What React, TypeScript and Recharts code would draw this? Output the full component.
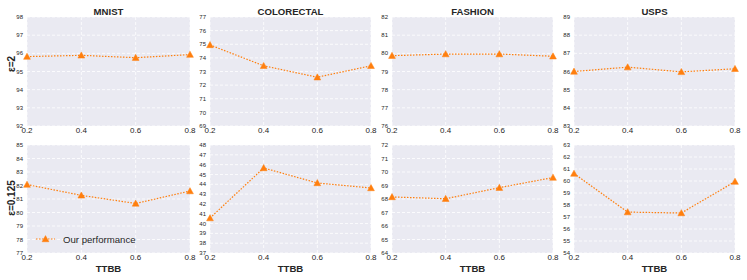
import React from "react";
import { LineChart, Line, XAxis, YAxis, CartesianGrid } from "recharts";

const ttbb = [0.2, 0.4, 0.6, 0.8];
const datasets = ["MNIST", "COLORECTAL", "FASHION", "USPS"];
const epsilonLabels = ["ε=2", "ε=0.125"];
const seriesName = "Our performance";

const mnistEps2 = [95.82, 95.89, 95.76, 95.93];
const colorectalEps2 = [74.95, 73.42, 72.58, 73.42];
const fashionEps2 = [79.87, 79.96, 79.96, 79.84];
const uspsEps2 = [86.0, 86.24, 85.98, 86.15];

const mnistEps0125 = [82.07, 81.27, 80.67, 81.59];
const colorectalEps0125 = [40.56, 45.66, 44.13, 43.62];
const fashionEps0125 = [68.15, 68.02, 68.84, 69.59];
const uspsEps0125 = [60.62, 57.41, 57.33, 59.95];

const mnistEps2Ticks = [92, 93, 94, 95, 96, 97, 98];
const colorectalEps2Ticks = [69, 70, 71, 72, 73, 74, 75, 76, 77];
const fashionEps2Ticks = [76, 77, 78, 79, 80, 81, 82];
const uspsEps2Ticks = [83, 84, 85, 86, 87, 88, 89];

const mnistEps0125Ticks = [77, 78, 79, 80, 81, 82, 83, 84, 85];
const colorectalEps0125Ticks = [37, 38, 39, 40, 41, 42, 43, 44, 45, 46, 47, 48];
const fashionEps0125Ticks = [64, 65, 66, 67, 68, 69, 70, 71, 72];
const uspsEps0125Ticks = [54, 55, 56, 57, 58, 59, 60, 61, 62, 63];

const rows = [
  [
    { values: mnistEps2, ticks: mnistEps2Ticks },
    { values: colorectalEps2, ticks: colorectalEps2Ticks },
    { values: fashionEps2, ticks: fashionEps2Ticks },
    { values: uspsEps2, ticks: uspsEps2Ticks },
  ],
  [
    { values: mnistEps0125, ticks: mnistEps0125Ticks },
    { values: colorectalEps0125, ticks: colorectalEps0125Ticks },
    { values: fashionEps0125, ticks: fashionEps0125Ticks },
    { values: uspsEps0125, ticks: uspsEps0125Ticks },
  ],
];

const FONT = "'Liberation Sans', Arial, sans-serif";
const ORANGE = "#FF7F0E";
const plotLefts = [27, 210, 392, 574];
const plotWidths = [163, 161, 161, 161];
const plotTops = [17, 145];
const plotHeights = [109, 108];
const ML = 30;
const MT = 20;
const MR = 8;
const XH = 20;

const Triangle = (props: any) => {
  const { cx, cy } = props;
  if (cx == null || cy == null) return null;
  const s = 3.4;
  return (
    <path
      d={`M${cx},${cy - s} L${cx + s},${cy + s * 0.8} L${cx - s},${cy + s * 0.8} Z`}
      fill={ORANGE}
      stroke={ORANGE}
      strokeWidth={0.5}
    />
  );
};

function Panel({ r, c }: { r: number; c: number }) {
  const { values, ticks } = rows[r][c];
  const data = ttbb.map((x, i) => ({ x, y: values[i] }));
  const pw = plotWidths[c];
  const ph = plotHeights[r];
  const width = pw + ML + MR;
  const height = ph + MT + XH;
  return (
    <div style={{ position: "absolute", left: plotLefts[c] - ML, top: plotTops[r] - MT }}>
      <LineChart width={width} height={height} data={data} margin={{ top: MT, right: MR, left: 0, bottom: 0 }}>
        <CartesianGrid fill="#EAEAF2" stroke="#FFFFFF" strokeDasharray="3 2" strokeWidth={0.8} />
        <XAxis
          dataKey="x"
          type="number"
          domain={[0.2, 0.8]}
          ticks={ttbb}
          tickFormatter={(v: number) => v.toFixed(1)}
          axisLine={false}
          tickLine={false}
          tickSize={0}
          height={XH}
          tickMargin={1}
          interval={0}
          tick={{ fontSize: 8, fill: "#262626", fontFamily: FONT }}
        />
        <YAxis
          type="number"
          domain={[ticks[0], ticks[ticks.length - 1]]}
          ticks={ticks}
          axisLine={false}
          tickLine={false}
          tickSize={0}
          width={ML}
          tickMargin={4}
          interval={0}
          tick={{ fontSize: 6, fill: "#262626", fontFamily: FONT }}
        />
        <Line
          dataKey="y"
          name={seriesName}
          stroke={ORANGE}
          strokeWidth={1.2}
          strokeDasharray="1.5 1.5"
          dot={<Triangle />}
          activeDot={false}
          isAnimationActive={false}
        />
      </LineChart>
    </div>
  );
}

export default function App() {
  return (
    <div style={{ position: "absolute", left: 0, top: 0, width: 747, height: 280, background: "#fff", fontFamily: FONT }}>
      {rows.map((row, r) => row.map((_, c) => <Panel key={`${r}-${c}`} r={r} c={c} />))}
      <div style={{ position: "absolute", left: 35, top: 232 }}>
        <svg width={120} height={14} style={{ display: "block" }}>
          <line x1={1} y1={7} x2={20} y2={7} stroke={ORANGE} strokeWidth={1.2} strokeDasharray="1.5 1.5" />
          <Triangle cx={10.5} cy={7} />
          <text x={28} y={10.5} fontSize={9.6} fill="#262626" fontFamily={FONT}>
            {seriesName}
          </text>
        </svg>
      </div>
      {datasets.map((d, c) => (
        <div
          key={d}
          style={{
            position: "absolute",
            left: plotLefts[c] + plotWidths[c] / 2,
            top: 11,
            transform: "translate(-50%, -50%)",
            fontSize: 9.6,
            fontWeight: "bold",
            color: "#262626",
            whiteSpace: "nowrap",
          }}
        >
          {d}
        </div>
      ))}
      {datasets.map((d, c) => (
        <div
          key={`x-${d}`}
          style={{
            position: "absolute",
            left: plotLefts[c] + plotWidths[c] / 2,
            top: 268,
            transform: "translate(-50%, -50%)",
            fontSize: 9.6,
            fontWeight: "bold",
            color: "#262626",
            whiteSpace: "nowrap",
          }}
        >
          TTBB
        </div>
      ))}
      {epsilonLabels.map((e, r) => (
        <div
          key={e}
          style={{
            position: "absolute",
            left: 11,
            top: r === 0 ? 64 : 198,
            transform: "translate(-50%, -50%) rotate(-90deg)",
            fontSize: 10,
            fontWeight: "bold",
            color: "#262626",
            whiteSpace: "nowrap",
          }}
        >
          {e}
        </div>
      ))}
    </div>
  );
}
